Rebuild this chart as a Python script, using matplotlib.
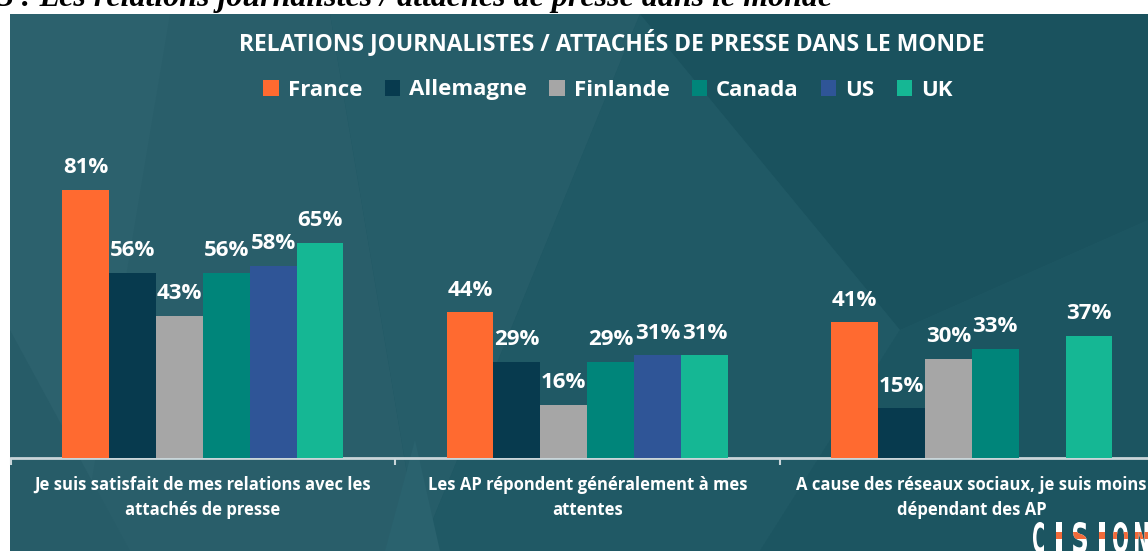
import numpy as np
import matplotlib
matplotlib.use("Agg")
import matplotlib.pyplot as plt
from matplotlib.patches import Polygon, Rectangle, PathPatch
from matplotlib.textpath import TextPath
from matplotlib.font_manager import FontProperties
from matplotlib.transforms import Affine2D

# ---------------- data ----------------
categories = [
    "Je suis satisfait de mes relations avec les\nattachés de presse",
    "Les AP répondent généralement à mes\nattentes",
    "A cause des réseaux sociaux, je suis moins\ndépendant des AP",
]
countries = ["France", "Allemagne", "Finlande", "Canada", "US", "UK"]
france = [81, 44, 41]
allemagne = [56, 29, 15]
finlande = [43, 16, 30]
canada = [56, 29, 33]
us = [58, 31, np.nan]
uk = [65, 31, 37]
series = [france, allemagne, finlande, canada, us, uk]
colors = ["#FF6A30", "#073A4E", "#A6A6A6", "#00857A", "#2F5597", "#15B794"]

chart_title = "RELATIONS JOURNALISTES / ATTACHÉS DE PRESSE DANS LE MONDE"
doc_title = "3 : Les relations journalistes / attachés de presse dans le monde"
logo_text = "CISION"

W, H = 1148, 551
fig = plt.figure(figsize=(W / 100, H / 100), dpi=100)
fig.patch.set_facecolor("white")

FONT = "Open Sans"

# ---------------- background panel (pixel coords) ----------------
bg = fig.add_axes([0, 0, 1, 1], zorder=-10)
bg.set_xlim(0, W)
bg.set_ylim(H, 0)
bg.axis("off")
bg.add_patch(Rectangle((10, 14), W - 10, H - 14, facecolor="#1E5763", edgecolor="none"))
polys = [
    ([(10, 14), (330, 14), (420, 551), (10, 551)], "#295E6A"),
    ([(10, 14), (170, 14), (80, 551), (10, 551)], "#2C616D"),
    ([(330, 14), (640, 14), (420, 551)], "#265D69"),
    ([(640, 14), (1148, 14), (1148, 220), (900, 330)], "#1A525E"),
    ([(420, 551), (640, 14), (900, 330), (760, 551)], "#205965"),
    ([(760, 551), (900, 330), (1148, 220), (1148, 551)], "#1C5561"),
    ([(10, 330), (130, 551), (10, 551)], "#275C68"),
    ([(385, 551), (415, 440), (440, 551)], "#2A626E"),
]
for pts, c in polys:
    bg.add_patch(Polygon(pts, closed=True, facecolor=c, edgecolor="none"))

# document title (cut off at top)
fig.text(-3 / W, 1 - 6 / H, doc_title, family="Liberation Serif", fontweight="bold",
         fontstyle="italic", fontsize=23, color="black", ha="left", va="baseline")

# ---------------- bar axes ----------------
px_per_unit = 3.31
ax_left_px, ax_bottom_px, ax_top_px = 10.5, 458, 14
ax = fig.add_axes([ax_left_px / W, 1 - ax_bottom_px / H, (W - ax_left_px) / W,
                   (ax_bottom_px - ax_top_px) / H])
ax.patch.set_alpha(0)
group_px = 384.5

x = np.arange(len(categories))
bw = 0.122
n = len(series)
for i, (vals, col, name) in enumerate(zip(series, colors, countries)):
    pos = x + (i - (n - 1) / 2) * bw
    v = np.array(vals, dtype=float)
    ax.bar(pos, v, width=bw, color=col, label=name, zorder=3)
    for p, val in zip(pos, v):
        if not np.isnan(val):
            ax.text(p, val + 5.0, f"{int(val)}%", ha="center", va="baseline",
                    family=FONT, fontweight="bold", fontsize=16, color="white")

for s in ["top", "right", "left"]:
    ax.spines[s].set_visible(False)
ax.spines["bottom"].set_color("#C9D5D9")
ax.spines["bottom"].set_linewidth(2)
ax.set_yticks([])
ax.set_xticks(x)
ax.set_xticklabels(categories, family=FONT, fontweight="bold", fontsize=12, color="white",
                   linespacing=1.5)
ax.tick_params(axis="x", which="major", length=0, pad=13)
ax.set_xticks([-0.5, 0.5, 1.5, 2.5], minor=True)
ax.tick_params(axis="x", which="minor", length=5, width=1.5, color="#C9D5D9", direction="out")
ax.set_xlim(-0.5, -0.5 + (W - ax_left_px) / group_px)
ax.set_ylim(0, (ax_bottom_px - ax_top_px) / px_per_unit)

# chart title
fig.text(612 / W, 1 - 43 / H, chart_title, family=FONT, fontweight="bold", fontsize=16.5,
         color="white", ha="center", va="center")

# legend
handles, labels = ax.get_legend_handles_labels()
leg = fig.legend(handles, labels, loc="center", bbox_to_anchor=(608 / W, 1 - 90 / H),
                 ncol=6, frameon=False, handlelength=0.7, handleheight=0.7,
                 handletextpad=0.4, columnspacing=1.0,
                 prop={"family": FONT, "weight": "bold", "size": 16})
for t in leg.get_texts():
    t.set_color("white")

# CISION logo: condensed letters drawn one by one
fp = FontProperties(family="DejaVu Sans", weight="bold")
letter_boxes = [(1033, 11), (1056, 6), (1073, 14), (1099, 6), (1113, 15), (1135, 13)]
top_px, h_px = 522, 31
band_parts = []
for ch, (lx, lw) in zip(logo_text, letter_boxes):
    tp = TextPath((0, 0), ch, size=30, prop=fp)
    ext = tp.get_extents()
    tr = (Affine2D().translate(-ext.x0, -ext.y0)
          .scale(lw / ext.width, -h_px / ext.height)
          .translate(lx, top_px + h_px) + bg.transData)
    lp = PathPatch(tp, facecolor="white", edgecolor="none", transform=tr, zorder=6)
    bg.add_patch(lp)
    if ch != "C":
        band = Rectangle((lx - 1, 532), lw + 2, 7, facecolor="#F26B3A",
                         edgecolor="none", zorder=7)
        bg.add_patch(band)
        band.set_clip_path(lp)

fig.savefig("out.png", dpi=100)
